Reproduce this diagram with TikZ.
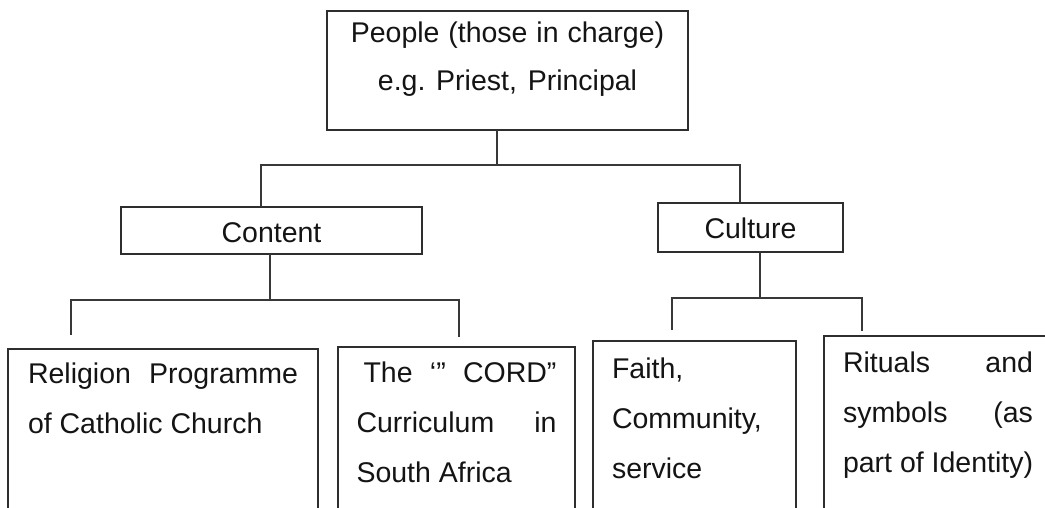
\documentclass[tikz,border=0pt]{standalone}
\usepackage{fontspec}
\setmainfont{Liberation Sans}
% a line spread to a fixed width (justified)
\newcommand{\jline}[2]{\makebox[#1]{#2}}
% the font's own interword spaces inside aligned nodes
\newcommand{\plainspaces}{\spaceskip=0pt\xspaceskip=0pt\frenchspacing}
\begin{document}
\begin{tikzpicture}[x=1pt,y=-1pt,
  box/.style={draw=black!82, line width=1.7pt, outer sep=0pt, inner ysep=0pt,
    anchor=north west, text=black!92, font=\fontsize{28.5}{50}\selectfont},
  link/.style={draw=black!78, line width=1.9pt}]
\clip (0,0) rectangle (1045,508);
\fill[white] (0,0) rectangle (1045,508);

% top level
\node[box, inner xsep=10pt, text width=341pt, align=center,
  text height=32pt, text depth=87pt, font=\fontsize{28.5}{48}\selectfont]
  (people) at (327,11) {\plainspaces People (those in charge)\\ e.g. Priest, Principal};

% second level
\node[box, inner xsep=0pt, text width=301pt, align=center,
  text height=35pt, text depth=12pt] (content) at (121,207) {Content};
\node[box, inner xsep=0pt, text width=185pt, align=center,
  text height=36pt, text depth=13pt] (culture) at (658,203) {Culture};

% third level
\node[box, inner xsep=20pt, text width=270pt, align=left,
  text height=34pt, text depth=180pt] (religion) at (8,349)
  {\plainspaces\jline{270pt}{Religion\hfill Programme}\\ of Catholic Church};
\node[box, inner xsep=18.5pt, text width=200pt, align=left,
  text height=35pt, text depth=180pt] (cord) at (338,347)
  {\plainspaces\jline{200pt}{\hspace*{7pt}The\hfill‘”\hfill CORD”}\\
   \jline{200pt}{Curriculum\hfill in}\\ South Africa};
\node[box, inner xsep=19pt, text width=165pt, align=left,
  text height=37pt, text depth=180pt] (faith) at (593,341)
  {Faith,\\ Community,\\ service};
\node[box, inner xsep=19pt, text width=194pt, align=left,
  text height=36pt, text depth=180pt] (rituals) at (824,336)
  {\plainspaces\jline{190pt}{Rituals\hfill and}\\
   \jline{190pt}{symbols\hfill (as}\\ part of Identity)};

% bus below the top box
\coordinate (a0) at (497,165);
\coordinate (a1) at (261,165);
\coordinate (a2) at (740,165);
\draw[link] (people.south -| a0) -- (a0);
\draw[link] (content.north -| a1) -- (a1) -- (a2) -- (culture.north -| a2);

% bus below Content
\coordinate (b0) at (270,300);
\coordinate (b1) at (71,300);
\coordinate (b2) at (459,300);
\coordinate (b1e) at (71,335);
\coordinate (b2e) at (459,337);
\draw[link] (content.south -| b0) -- (b0);
\draw[link] (b1e) -- (b1) -- (b2) -- (b2e);

% bus below Culture
\coordinate (c0) at (760,298);
\coordinate (c1) at (672,298);
\coordinate (c2) at (862,298);
\coordinate (c1e) at (672,330);
\coordinate (c2e) at (862,331);
\draw[link] (culture.south -| c0) -- (c0);
\draw[link] (c1e) -- (c1) -- (c2) -- (c2e);
\end{tikzpicture}
\end{document}
